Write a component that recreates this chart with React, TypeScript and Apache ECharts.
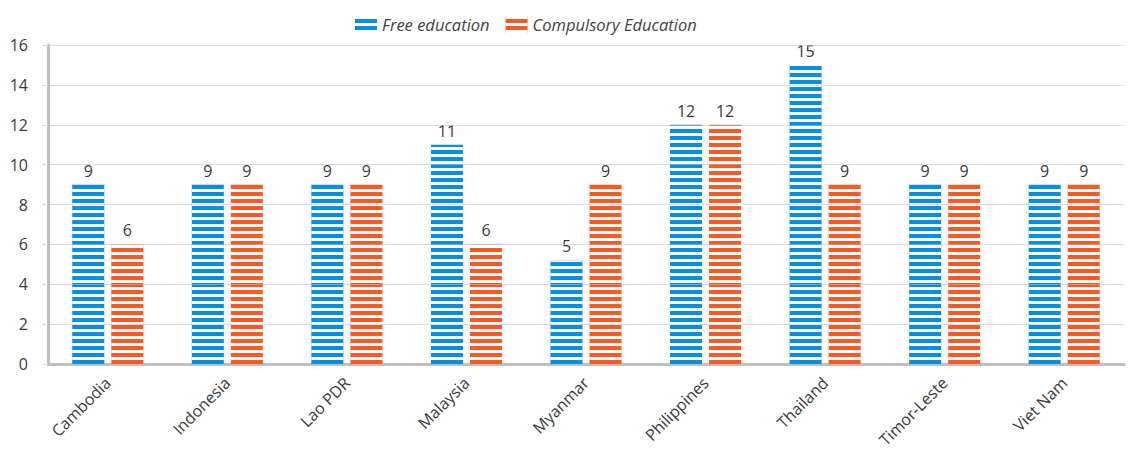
import React, { useEffect, useRef } from "react";
import * as echarts from "echarts";

const categories = ["Cambodia", "Indonesia", "Lao PDR", "Malaysia", "Myanmar", "Philippines", "Thailand", "Timor-Leste", "Viet Nam"];
const freeEducation = [9, 9, 9, 11, 5.2, 12, 15, 9, 9];
const compulsoryEducation = [6, 9, 9, 6, 9, 12, 9, 9, 9];
const seriesNames = ["Free education", "Compulsory Education"];
const yTicks = [0, 2, 4, 6, 8, 10, 12, 14, 16];

const BLUE = "#068ee0";
const ORANGE = "#f85a26";
const FONT = "'Open Sans', 'Noto Sans', sans-serif";

const stripeDecal = {
  symbol: "rect",
  symbolSize: 1,
  color: "#ffffff",
  dashArrayX: [[20, 0]],
  dashArrayY: [2.2, 3.1],
  rotation: 0,
};

export default function App() {
  const ref = useRef<HTMLDivElement>(null);
  useEffect(() => {
    if (!ref.current) return;
    const chart = echarts.init(ref.current, null, { renderer: "svg" });
    const labelCfg = {
      show: true,
      position: "top",
      distance: 6,
      color: "#3a3a3a",
      fontSize: 16,
      fontFamily: FONT,
      formatter: (p: any) => String(Math.round(p.value)),
    };
    chart.setOption({
      animation: false,
      legend: {
        left: 350,
        top: 11,
        itemWidth: 22,
        itemHeight: 17,
        itemGap: 16,
        icon: "rect",
        textStyle: { fontFamily: FONT, fontStyle: "italic", fontSize: 16.5, color: "#444" },
        data: seriesNames,
      },
      grid: { left: 48, right: 8, top: 45, bottom: 86, containLabel: false, outerBoundsMode: "none" },
      xAxis: {
        type: "category",
        data: categories,
        axisLine: { lineStyle: { color: "#c0c0c0", width: 3 } },
        axisTick: { show: false },
        axisLabel: { rotate: 45, fontFamily: FONT, fontSize: 16, color: "#3a3a3a", margin: 16 },
      },
      yAxis: {
        type: "value",
        min: yTicks[0],
        max: yTicks[yTicks.length - 1],
        interval: 2,
        z: 3,
        axisLine: { show: true, lineStyle: { color: "#c0c0c0", width: 3 } },
        axisTick: { show: true, length: 6, lineStyle: { color: "#dcdcdc" } },
        splitLine: { lineStyle: { color: "rgba(190,190,190,0.55)", width: 1 } },
        axisLabel: { fontFamily: FONT, fontSize: 16, color: "#3a3a3a", margin: 20 },
      },
      series: [
        {
          name: seriesNames[0],
          type: "bar",
          data: freeEducation,
          barWidth: 32,
          barGap: "22%",
          itemStyle: { color: BLUE, decal: stripeDecal },
          label: labelCfg,
        },
        {
          name: seriesNames[1],
          type: "bar",
          data: compulsoryEducation,
          barWidth: 32,
          barGap: "22%",
          itemStyle: { color: ORANGE, decal: stripeDecal },
          label: labelCfg,
        },
      ],
    });
    return () => chart.dispose();
  }, []);
  return <div ref={ref} style={{ position: "absolute", left: 0, top: 0, width: 1132, height: 450 }} />;
}
